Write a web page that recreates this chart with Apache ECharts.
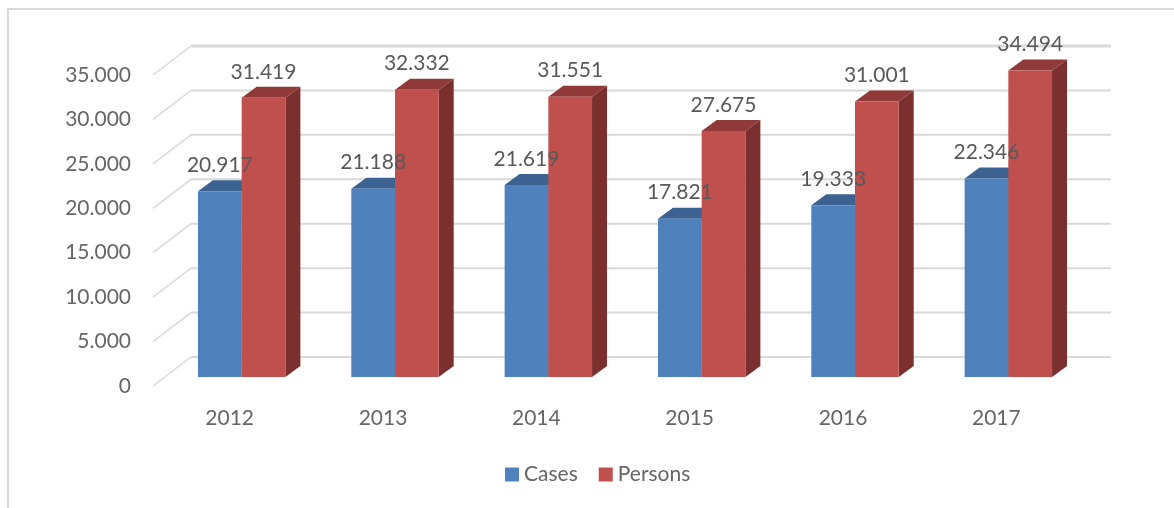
<!DOCTYPE html>
<html>
<head>
<meta charset="utf-8">
<style>
html, body { margin: 0; padding: 0; background: #fff; }
#chart { width: 1174px; height: 508px; }
</style>
<script src="https://cdn.jsdelivr.net/npm/echarts@6/dist/echarts.min.js"></script>
</head>
<body>
<div id="chart"></div>
<script>
var years = ["2012", "2013", "2014", "2015", "2016", "2017"];
var cases = [20917, 21188, 21619, 17821, 19333, 22346];
var persons = [31419, 32332, 31551, 27675, 31001, 34494];
var ticks = [0, 5000, 10000, 15000, 20000, 25000, 30000, 35000];

var fontName = "Lato";

function dotted(v) {
    return String(v).replace(/\B(?=(\d{3})+$)/g, ".");
}

// fake 3d column, side -1 is left of the category centre, 1 is right
function barRenderer(side, front, top, right) {
    return function (params, api) {
        var p = api.coord([api.value(0), api.value(1)]);
        var base = api.coord([api.value(0), 0]);
        var w = api.size([1, 0])[0] * 0.285;
        var x0 = side < 0 ? p[0] - w : p[0];
        var x1 = x0 + w;
        var dx = 15, dy = 11;
        return {
            type: "group",
            children: [
                {type: "polygon", shape: {points: [[x1, p[1]], [x1 + dx, p[1] - dy], [x1 + dx, base[1] - dy], [x1, base[1]]]}, style: {fill: right}},
                {type: "polygon", shape: {points: [[x0, p[1]], [x0 + dx, p[1] - dy], [x1 + dx, p[1] - dy], [x1, p[1]]]}, style: {fill: top}},
                {type: "rect", shape: {x: x0, y: p[1], width: w, height: base[1] - p[1]}, style: {fill: front}},
                {
                    type: "text",
                    z2: 100,
                    style: {
                        x: (x0 + x1) / 2,
                        y: p[1] - 26,
                        text: dotted(api.value(1)),
                        align: "center",
                        verticalAlign: "middle",
                        fill: "#595959",
                        font: "21px '" + fontName + "'"
                    }
                }
            ]
        };
    };
}

// side and back wall lines for one tick
function wallRenderer(params, api) {
    var p = api.coord([0, api.value(1)]);
    var left = params.coordSys.x;
    var width = params.coordSys.width;
    var y = p[1];
    return {
        type: "group",
        children: [
            {type: "line", shape: {x1: left - 12, y1: y + 9, x2: left + 26, y2: y - 20}, style: {stroke: "#d9d9d9", lineWidth: 1.5}},
            {type: "line", shape: {x1: left + 26, y1: y - 20, x2: left + 26 + width, y2: y - 20}, style: {stroke: "#d9d9d9", lineWidth: api.value(1) === 35000 ? 3 : 2}}
        ]
    };
}

var chart = echarts.init(document.getElementById("chart"), null, {renderer: "canvas"});

chart.setOption({
    animation: false,
    backgroundColor: "#fff",
    textStyle: {fontFamily: fontName},
    graphic: [{
        type: "polyline",
        shape: {points: [[8, 508], [8, 9], [1174, 9]]},
        style: {stroke: "#d9d9d9", lineWidth: 2, fill: null}
    }],
    legend: {
        data: ["Cases", "Persons"],
        left: 500,
        top: 459,
        icon: "rect",
        itemWidth: 14,
        itemHeight: 14,
        itemGap: 21,
        textStyle: {color: "#666", fontSize: 21, fontFamily: fontName}
    },
    grid: [
        // plane the columns stand on
        {left: 165, width: 920, top: 66, height: 311},
        // front edge, carries the labels
        {left: 153, width: 920, top: 75, height: 311}
    ],
    xAxis: [
        {type: "category", gridIndex: 0, data: years, axisLine: {show: false}, axisTick: {show: false}, axisLabel: {show: false}, splitLine: {show: false}},
        {
            type: "category",
            gridIndex: 1,
            data: years,
            axisLine: {show: false},
            axisTick: {show: false},
            axisLabel: {color: "#666", fontSize: 21, fontFamily: fontName, margin: 22},
            splitLine: {show: false}
        }
    ],
    yAxis: [
        {type: "value", gridIndex: 0, min: 0, max: 35000, interval: 5000, axisLine: {show: false}, axisTick: {show: false}, axisLabel: {show: false}, splitLine: {show: false}},
        {
            type: "value",
            gridIndex: 1,
            min: 0,
            max: 35000,
            interval: 5000,
            axisLine: {show: false},
            axisTick: {show: false},
            splitLine: {show: false},
            axisLabel: {color: "#666", fontSize: 21, fontFamily: fontName, margin: 22, formatter: dotted}
        }
    ],
    series: [
        {
            type: "custom",
            name: "wall",
            z: 1,
            silent: true,
            renderItem: wallRenderer,
            encode: {x: 0, y: 1},
            data: ticks.map(function (t) { return [0, t]; })
        },
        {
            type: "custom",
            name: "Cases",
            z: 2,
            itemStyle: {color: "#4f81bd"},
            renderItem: barRenderer(-1, "#4f81bd", "#3c6291", "#375a85"),
            encode: {x: 0, y: 1},
            data: years.map(function (y, i) { return [i, cases[i]]; })
        },
        {
            type: "custom",
            name: "Persons",
            z: 2,
            itemStyle: {color: "#c0504d"},
            renderItem: barRenderer(1, "#c0504d", "#8f3a38", "#7b2f2e"),
            encode: {x: 0, y: 1},
            data: years.map(function (y, i) { return [i, persons[i]]; })
        }
    ]
});
</script>
</body>
</html>
